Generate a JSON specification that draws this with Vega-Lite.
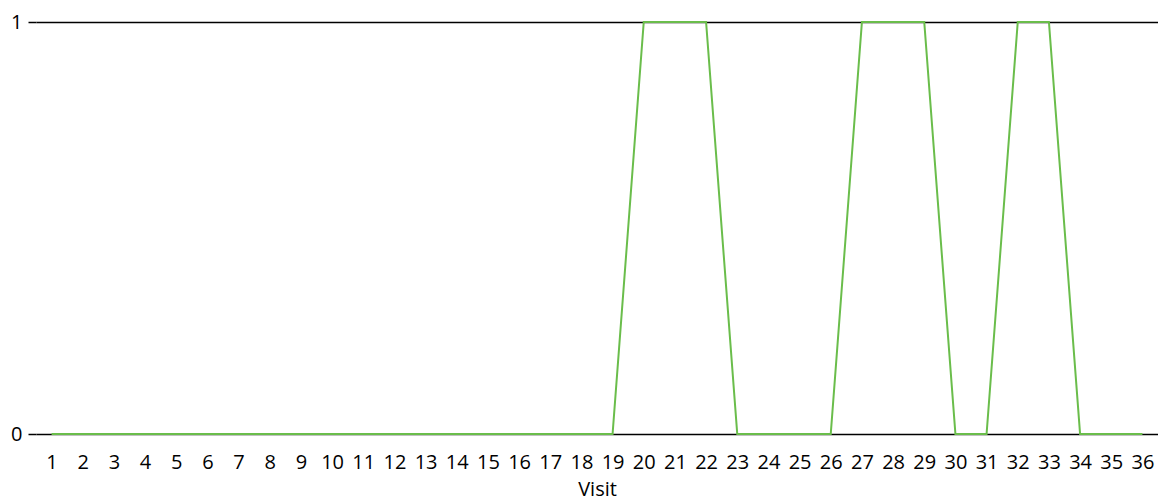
{
  "$schema": "https://vega.github.io/schema/vega-lite/v6.json",
  "width": 1122,
  "height": 412,
  "autosize": "none",
  "padding": {"left": 36, "top": 22, "right": 0, "bottom": 67},
  "background": "white",
  "config": {"view": {"stroke": null}, "font": "Open Sans"},
  "data": {"values": [
    {"visit": 1, "value": 0}, {"visit": 2, "value": 0}, {"visit": 3, "value": 0}, {"visit": 4, "value": 0},
    {"visit": 5, "value": 0}, {"visit": 6, "value": 0}, {"visit": 7, "value": 0}, {"visit": 8, "value": 0},
    {"visit": 9, "value": 0}, {"visit": 10, "value": 0}, {"visit": 11, "value": 0}, {"visit": 12, "value": 0},
    {"visit": 13, "value": 0}, {"visit": 14, "value": 0}, {"visit": 15, "value": 0}, {"visit": 16, "value": 0},
    {"visit": 17, "value": 0}, {"visit": 18, "value": 0}, {"visit": 19, "value": 0}, {"visit": 20, "value": 1},
    {"visit": 21, "value": 1}, {"visit": 22, "value": 1}, {"visit": 23, "value": 0}, {"visit": 24, "value": 0},
    {"visit": 25, "value": 0}, {"visit": 26, "value": 0}, {"visit": 27, "value": 1}, {"visit": 28, "value": 1},
    {"visit": 29, "value": 1}, {"visit": 30, "value": 0}, {"visit": 31, "value": 0}, {"visit": 32, "value": 1},
    {"visit": 33, "value": 1}, {"visit": 34, "value": 0}, {"visit": 35, "value": 0}, {"visit": 36, "value": 0}
  ]},
  "mark": {"type": "line", "color": "#6abd4b", "strokeWidth": 2},
  "encoding": {
    "x": {
      "field": "visit", "type": "quantitative",
      "scale": {"domain": [0.5, 36.5], "nice": false, "zero": false},
      "axis": {
        "values": [1,2,3,4,5,6,7,8,9,10,11,12,13,14,15,16,17,18,19,20,21,22,23,24,25,26,27,28,29,30,31,32,33,34,35,36],
        "format": "d",
        "title": "Visit", "domain": false, "ticks": false, "tickSize": 0, "grid": false,
        "labelFontSize": 20, "labelPadding": 18, "labelColor": "black", "labelFlush": false, "labelOverlap": false,
        "titleFontSize": 20, "titleFontWeight": "normal", "titleColor": "black", "titlePadding": 7
      }
    },
    "y": {
      "field": "value", "type": "quantitative",
      "scale": {"domain": [0, 1], "nice": false},
      "axis": {
        "values": [0, 1], "format": "d", "title": null, "domain": false,
        "grid": true, "gridColor": "black", "gridWidth": 1.5, "gridOpacity": 1,
        "ticks": true, "tickSize": 8, "tickColor": "black", "tickWidth": 1.5,
        "labelFontSize": 20, "labelPadding": 6, "labelColor": "black", "labelFlush": false
      }
    }
  }
}
